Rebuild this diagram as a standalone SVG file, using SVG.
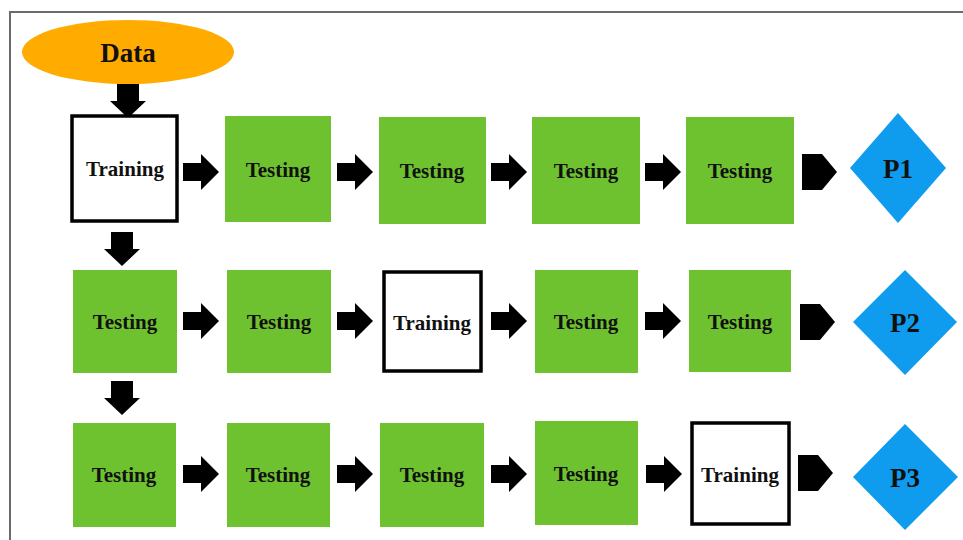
<svg xmlns="http://www.w3.org/2000/svg" xmlns:xlink="http://www.w3.org/1999/xlink" width="963" height="540" viewBox="0 0 963 540">
  <style>
    .frame { fill: none; stroke: #6b6b6b; stroke-width: 2; }
    .test { fill: #6fc22f; }
    .train { fill: #ffffff; stroke: #000000; stroke-width: 3.5; }
    .result { fill: #0f9cef; }
    .data { fill: #ffab00; }
    .lbl { font-family: "Liberation Serif", "Times New Roman", serif; font-weight: bold; font-size: 21px; fill: #111; text-anchor: middle; }
    .big { font-size: 27px; }
    .arrow { fill: #000000; }
  </style>
  <defs>
    <!-- block arrow pointing right, origin at left-centre -->
    <path id="arrR" d="M0,-9 H18 V-18 L36,0 L18,18 V9 H0 Z"/>
    <!-- pentagon pointer, origin at left-centre -->
    <path id="pent" d="M0,-18 H20 L35,0 L20,18 H0 Z"/>
    <!-- block arrow pointing down, origin at top-centre -->
    <path id="arrD" d="M-11,0 H11 V17 H18 L0,34 L-18,17 H-11 Z"/>
  </defs>

  <!-- outer frame -->
  <path class="frame" d="M10,540 V12 H963"/>

  <!-- connectors -->
  <g id="connectors" class="arrow">
    <use xlink:href="#arrD" transform="translate(128,84)"/>
    <use xlink:href="#arrD" transform="translate(122,232)"/>
    <use xlink:href="#arrD" transform="translate(122,381)"/>

    <use xlink:href="#arrR" transform="translate(183,172)"/>
    <use xlink:href="#arrR" transform="translate(337,172)"/>
    <use xlink:href="#arrR" transform="translate(491,172)"/>
    <use xlink:href="#arrR" transform="translate(645,172)"/>
    <use xlink:href="#pent" transform="translate(802,172)"/>

    <use xlink:href="#arrR" transform="translate(183,321)"/>
    <use xlink:href="#arrR" transform="translate(337,321)"/>
    <use xlink:href="#arrR" transform="translate(491,321)"/>
    <use xlink:href="#arrR" transform="translate(645,321)"/>
    <use xlink:href="#pent" transform="translate(800,322)"/>

    <use xlink:href="#arrR" transform="translate(183,474)"/>
    <use xlink:href="#arrR" transform="translate(337,474)"/>
    <use xlink:href="#arrR" transform="translate(491,474)"/>
    <use xlink:href="#arrR" transform="translate(646,474)"/>
    <use xlink:href="#pent" transform="translate(798,473)"/>
  </g>

  <g id="data">
    <ellipse class="data" cx="128" cy="52" rx="106" ry="32"/>
    <text class="lbl big" x="128" y="62">Data</text>
  </g>

  <!-- row 1 -->
  <g id="r1n1"><rect class="train" x="72" y="116" width="105" height="105"/><text class="lbl" x="125" y="176">Training</text></g>
  <g id="r1n2"><rect class="test" x="225" y="116" width="106" height="106"/><text class="lbl" x="278" y="177">Testing</text></g>
  <g id="r1n3"><rect class="test" x="379" y="117" width="107" height="107"/><text class="lbl" x="432" y="178">Testing</text></g>
  <g id="r1n4"><rect class="test" x="532" y="117" width="108" height="107"/><text class="lbl" x="586" y="178">Testing</text></g>
  <g id="r1n5"><rect class="test" x="686" y="117" width="108" height="107"/><text class="lbl" x="740" y="178">Testing</text></g>
  <g id="p1"><polygon class="result" points="898,113 946,168 898,223 850,168"/><text class="lbl big" x="898" y="178">P1</text></g>

  <!-- row 2 -->
  <g id="r2n1"><rect class="test" x="73" y="270" width="104" height="103"/><text class="lbl" x="125" y="329">Testing</text></g>
  <g id="r2n2"><rect class="test" x="227" y="270" width="104" height="103"/><text class="lbl" x="279" y="329">Testing</text></g>
  <g id="r2n3"><rect class="train" x="384" y="272" width="97" height="99"/><text class="lbl" x="432" y="330">Training</text></g>
  <g id="r2n4"><rect class="test" x="535" y="270" width="103" height="103"/><text class="lbl" x="586" y="329">Testing</text></g>
  <g id="r2n5"><rect class="test" x="689" y="270" width="102" height="102"/><text class="lbl" x="740" y="329">Testing</text></g>
  <g id="p2"><polygon class="result" points="905,270 957,322 905,375 853,322"/><text class="lbl big" x="905" y="332">P2</text></g>

  <!-- row 3 -->
  <g id="r3n1"><rect class="test" x="73" y="423" width="103" height="104"/><text class="lbl" x="124" y="482">Testing</text></g>
  <g id="r3n2"><rect class="test" x="227" y="423" width="103" height="104"/><text class="lbl" x="278" y="482">Testing</text></g>
  <g id="r3n3"><rect class="test" x="380" y="423" width="104" height="104"/><text class="lbl" x="432" y="482">Testing</text></g>
  <g id="r3n4"><rect class="test" x="535" y="421" width="103" height="104"/><text class="lbl" x="586" y="481">Testing</text></g>
  <g id="r3n5"><rect class="train" x="692" y="423" width="97" height="101"/><text class="lbl" x="740" y="482">Training</text></g>
  <g id="p3"><polygon class="result" points="905,424 958,477 905,530 853,477"/><text class="lbl big" x="905" y="487">P3</text></g>
</svg>
